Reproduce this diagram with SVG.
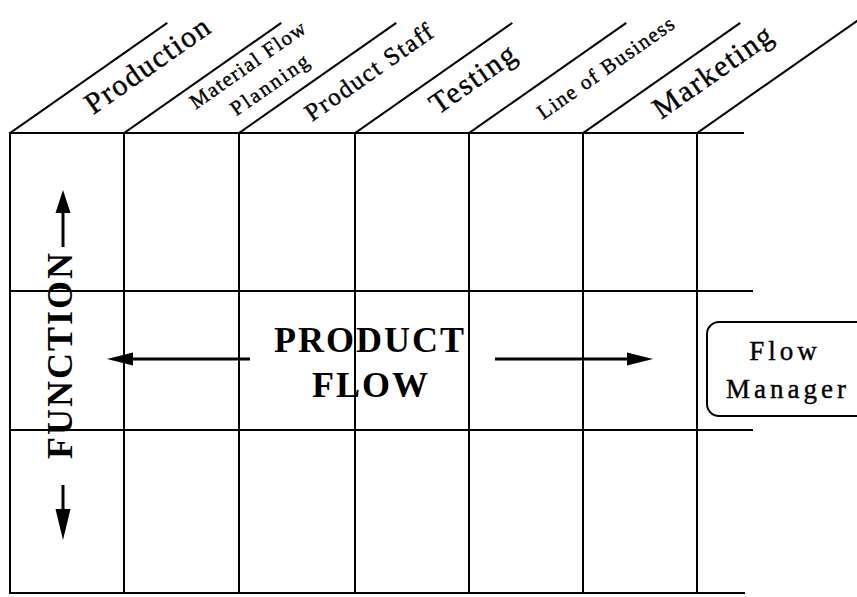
<svg xmlns="http://www.w3.org/2000/svg" width="857" height="597" viewBox="0 0 857 597">
<style>
.ln{stroke:#000;stroke-width:2;fill:none;stroke-linecap:square}
.hd{font-family:"Liberation Serif","Times New Roman",serif;fill:#000;stroke:#000;stroke-width:0.4;text-anchor:middle}
.bd{font-family:"Liberation Serif","Times New Roman",serif;font-weight:bold;fill:#000;text-anchor:middle}
.ar{stroke:#000;stroke-width:3;fill:none}
.ah{fill:#000;stroke:none}
</style>
<rect width="857" height="597" fill="#fff"/>
<g id="grid">
<line class="ln" x1="10" y1="133" x2="743" y2="133"/>
<line class="ln" x1="10" y1="291" x2="752" y2="291"/>
<line class="ln" x1="10" y1="430" x2="752" y2="430"/>
<line class="ln" x1="10" y1="593" x2="744" y2="593"/>
<line class="ln" x1="10" y1="133" x2="10" y2="593"/>
<line class="ln" x1="124" y1="133" x2="124" y2="593"/>
<line class="ln" x1="239" y1="133" x2="239" y2="593"/>
<line class="ln" x1="355" y1="133" x2="355" y2="593"/>
<line class="ln" x1="469" y1="133" x2="469" y2="593"/>
<line class="ln" x1="583" y1="133" x2="583" y2="593"/>
<line class="ln" x1="697" y1="133" x2="697" y2="593"/>
</g>
<g id="col-production" transform="translate(10,133) rotate(-35)">
<line class="ln" x1="0" y1="0" x2="191" y2="0"/>
<text class="hd" x="152" y="33" font-size="30" letter-spacing="1.5">Production</text>
</g>
<g id="col-material" transform="translate(124,133) rotate(-35)">
<line class="ln" x1="0" y1="0" x2="191" y2="0"/>
<text class="hd" x="141" y="22" font-size="21" letter-spacing="1.4">Material Flow</text>
<text class="hd" x="148" y="51" font-size="21" letter-spacing="2.3">Planning</text>
</g>
<g id="col-staff" transform="translate(239,133) rotate(-35)">
<line class="ln" x1="0" y1="0" x2="191" y2="0"/>
<text class="hd" x="142" y="33" font-size="25" letter-spacing="1.5">Product Staff</text>
</g>
<g id="col-testing" transform="translate(355,133) rotate(-35)">
<line class="ln" x1="0" y1="0" x2="191" y2="0"/>
<text class="hd" x="128" y="33" font-size="30" letter-spacing="1.7">Testing</text>
</g>
<g id="col-lob" transform="translate(469,133) rotate(-35)">
<line class="ln" x1="0" y1="0" x2="191" y2="0"/>
<text class="hd" x="150" y="32" font-size="21" letter-spacing="1.4">Line of Business</text>
</g>
<g id="col-marketing" transform="translate(583,133) rotate(-35)">
<line class="ln" x1="0" y1="0" x2="191" y2="0"/>
<text class="hd" x="142" y="34" font-size="30" letter-spacing="1.7">Marketing</text>
</g>
<g id="col-edge" transform="translate(697,133) rotate(-35)">
<line class="ln" x1="0" y1="0" x2="200" y2="0"/>
</g>
<g id="function-label">
<text class="bd" transform="translate(72,355) rotate(-90)" font-size="36" letter-spacing="2">FUNCTION</text>
</g>
<g id="product-flow">
<text class="bd" x="370" y="352" font-size="36" letter-spacing="2">PRODUCT</text>
<text class="bd" x="371" y="397" font-size="36" letter-spacing="2">FLOW</text>
</g>
<g id="flow-manager">
<rect x="707" y="322" width="170" height="94" rx="12" ry="12" class="ln"/>
<text class="hd" x="785" y="360" font-size="27" letter-spacing="4">Flow</text>
<text class="hd" x="788" y="398" font-size="27" letter-spacing="4">Manager</text>
</g>
<g id="connectors">
<line class="ar" x1="250" y1="359" x2="131" y2="359"/>
<polygon class="ah" points="107,359 133,352.5 133,365.5"/>
<line class="ar" x1="495" y1="359" x2="629" y2="359"/>
<polygon class="ah" points="653,359 627,352.5 627,365.5"/>
<line class="ar" x1="63" y1="247" x2="63" y2="210"/>
<polygon class="ah" points="63,190 55.5,213 70.5,213"/>
<line class="ar" x1="63" y1="485" x2="63" y2="512"/>
<polygon class="ah" points="63,540 55.5,509 70.5,509"/>
</g>
</svg>
